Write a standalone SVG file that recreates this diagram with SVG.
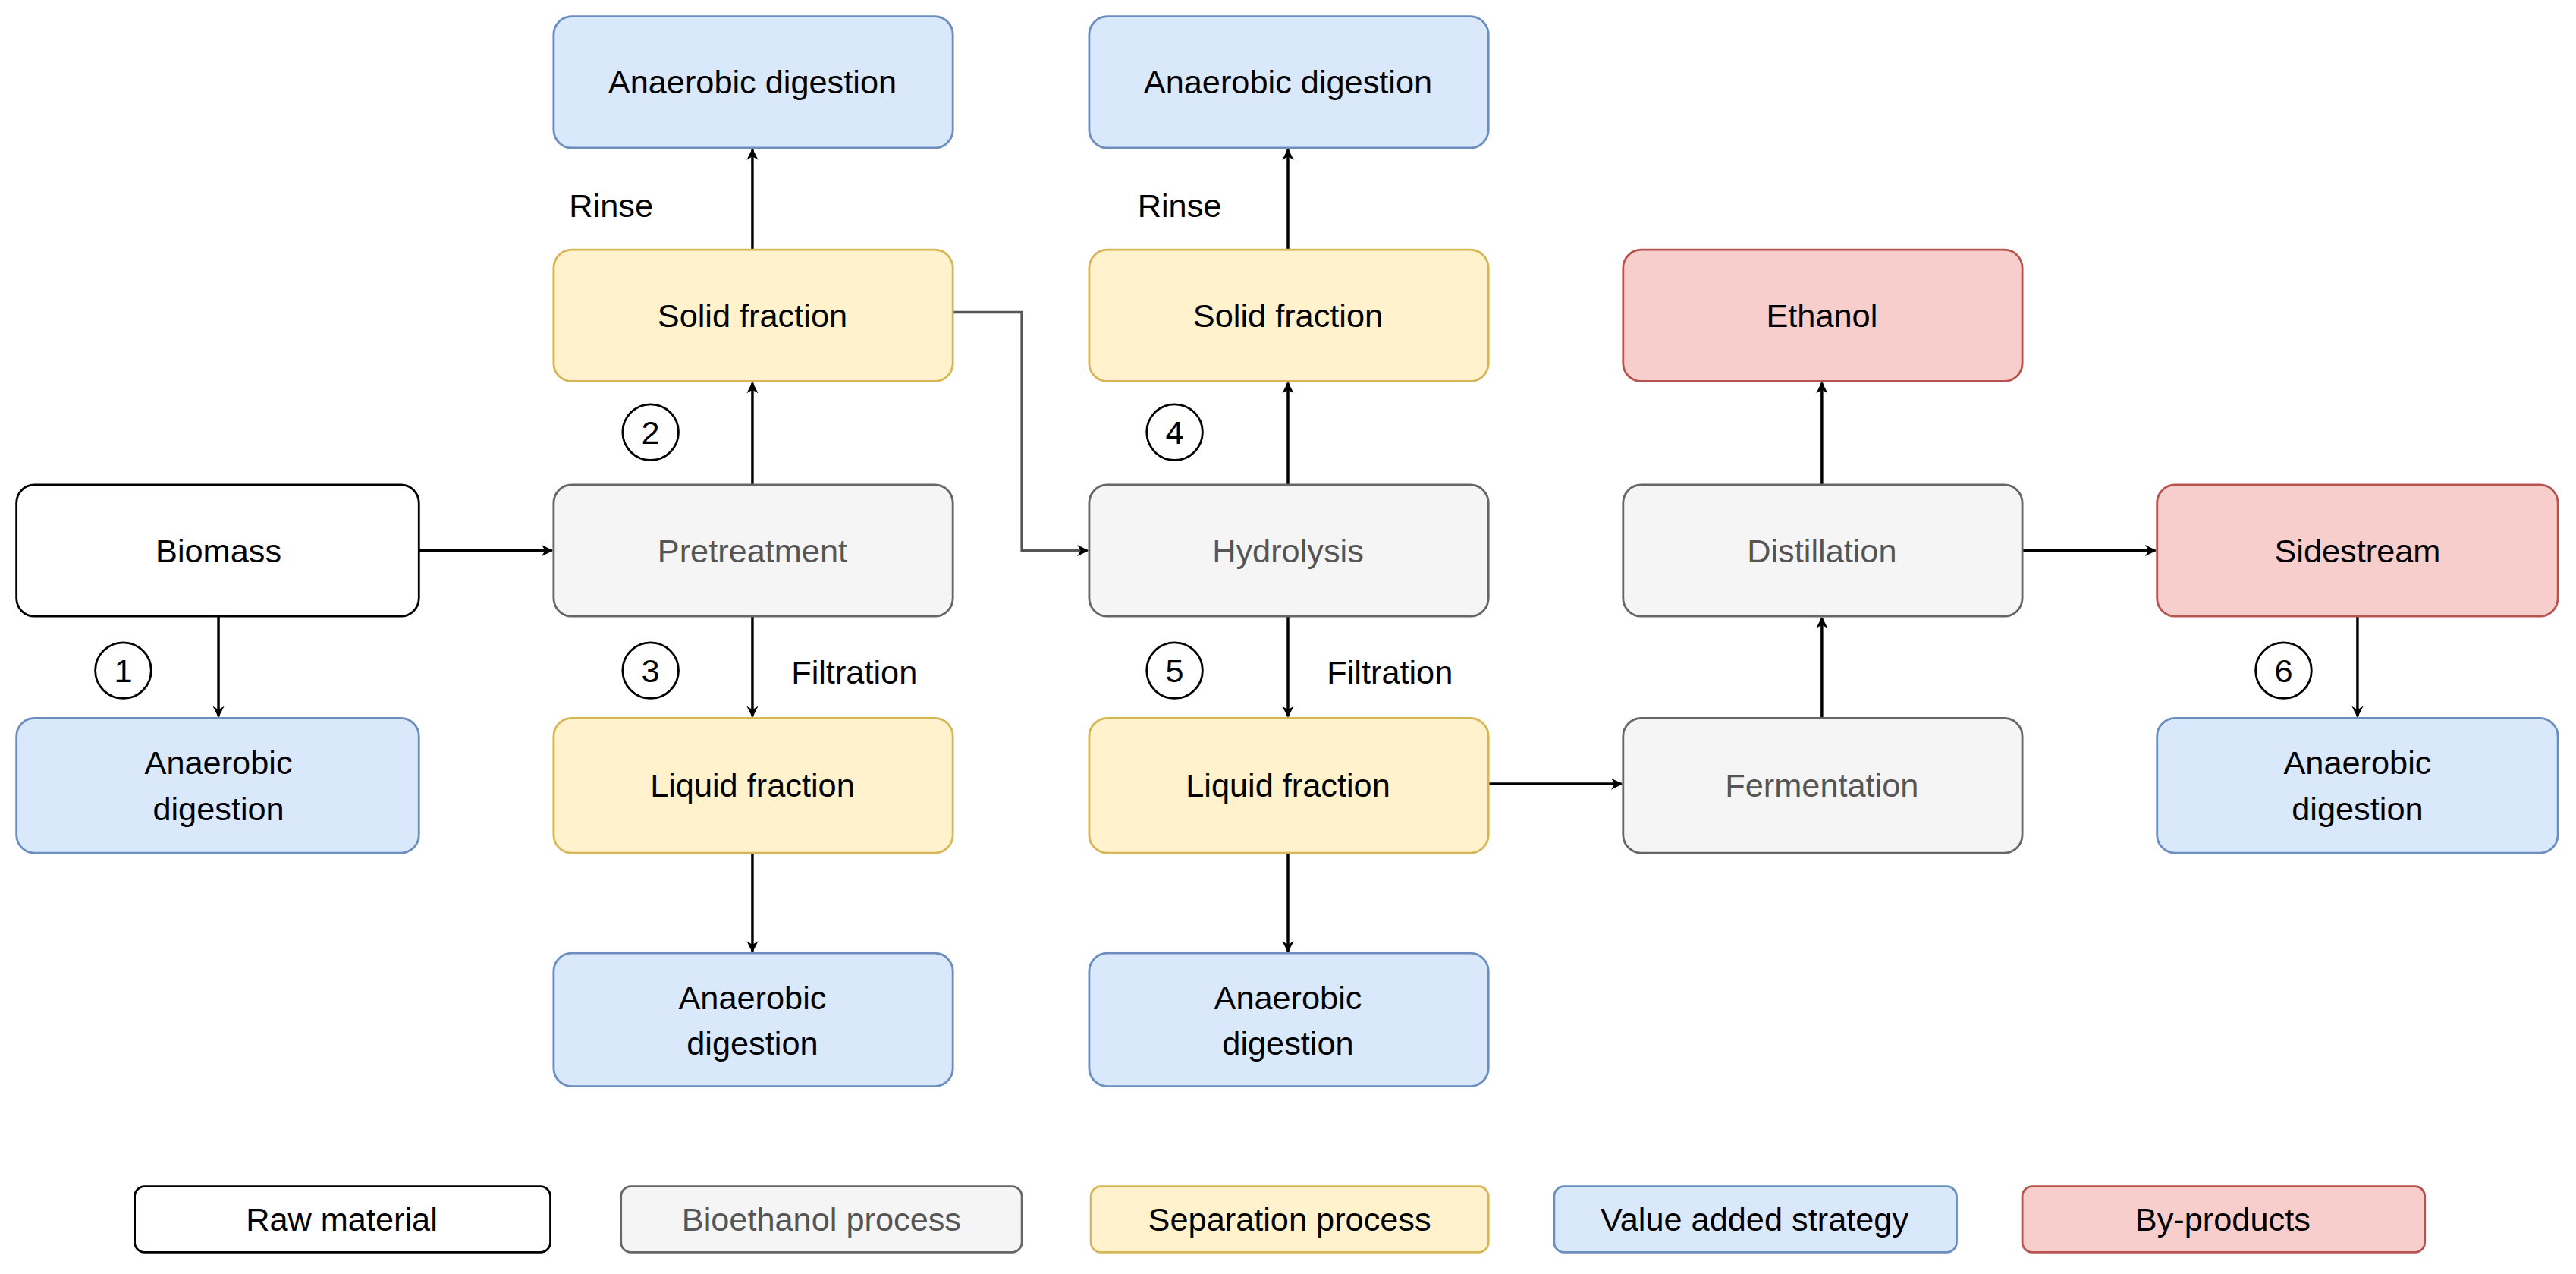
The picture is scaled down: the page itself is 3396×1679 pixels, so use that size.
<svg xmlns="http://www.w3.org/2000/svg" width="3396" height="1679" viewBox="0 0 3396 1679">
<defs>
<marker id="ar" viewBox="0 0 10 10" refX="9" refY="5" markerWidth="7" markerHeight="7" markerUnits="userSpaceOnUse" orient="auto"><path d="M0,0 L10,5 L0,10 L3,5 z" fill="#000"/></marker>
<style>
rect{stroke-width:1.3}
.raw{fill:#fff;stroke:#000}
.gr{fill:#f5f5f5;stroke:#666}
.ye{fill:#fff2cc;stroke:#d6b656}
.bl{fill:#dae8fc;stroke:#6c8ebf}
.rd{fill:#f8cecc;stroke:#b85450}
text{font-family:"Liberation Sans",Arial,sans-serif;font-size:20px;fill:#000;text-anchor:middle}
.gt{fill:#555}
.c line,.c path{stroke:#000;stroke-width:1.6;fill:none;marker-end:url(#ar)}
.c path.g{stroke:#555}
circle{fill:#fff;stroke:#000;stroke-width:1.3}
</style>
</defs>
<rect width="3396" height="1679" fill="#fff"/>
<g transform="scale(2.1658)">
<g class="c" id="connectors">
<line x1="255" y1="335" x2="336" y2="335"/>
<line x1="133" y1="375" x2="133" y2="436"/>
<line x1="458" y1="295" x2="458" y2="233"/>
<line x1="458" y1="152" x2="458" y2="91"/>
<line x1="458" y1="375" x2="458" y2="436"/>
<line x1="458" y1="519" x2="458" y2="579"/>
<path class="g" d="M580,190 L622,190 L622,335 L662,335"/>
<line x1="784" y1="295" x2="784" y2="233"/>
<line x1="784" y1="152" x2="784" y2="91"/>
<line x1="784" y1="375" x2="784" y2="436"/>
<line x1="784" y1="519" x2="784" y2="579"/>
<line x1="906" y1="477" x2="987" y2="477"/>
<line x1="1109" y1="437" x2="1109" y2="376"/>
<line x1="1109" y1="295" x2="1109" y2="233"/>
<line x1="1231" y1="335" x2="1312" y2="335"/>
<line x1="1435" y1="375" x2="1435" y2="436"/>
</g>
<g id="biomass"><rect class="raw" x="10" y="295" width="245" height="80" rx="11"/><text x="133" y="342">Biomass</text></g>
<g id="ad1"><rect class="bl" x="10" y="437" width="245" height="82" rx="11"/><text x="133" y="471">Anaerobic</text><text x="133" y="499">digestion</text></g>
<g id="pretreatment"><rect class="gr" x="337" y="295" width="243" height="80" rx="11"/><text class="gt" x="458" y="342">Pretreatment</text></g>
<g id="solid1"><rect class="ye" x="337" y="152" width="243" height="80" rx="11"/><text x="458" y="199">Solid fraction</text></g>
<g id="adtop1"><rect class="bl" x="337" y="10" width="243" height="80" rx="11"/><text x="458" y="57">Anaerobic digestion</text></g>
<g id="liquid1"><rect class="ye" x="337" y="437" width="243" height="82" rx="11"/><text x="458" y="485">Liquid fraction</text></g>
<g id="adbot1"><rect class="bl" x="337" y="580" width="243" height="81" rx="11"/><text x="458" y="614">Anaerobic</text><text x="458" y="642">digestion</text></g>
<g id="hydrolysis"><rect class="gr" x="663" y="295" width="243" height="80" rx="11"/><text class="gt" x="784" y="342">Hydrolysis</text></g>
<g id="solid2"><rect class="ye" x="663" y="152" width="243" height="80" rx="11"/><text x="784" y="199">Solid fraction</text></g>
<g id="adtop2"><rect class="bl" x="663" y="10" width="243" height="80" rx="11"/><text x="784" y="57">Anaerobic digestion</text></g>
<g id="liquid2"><rect class="ye" x="663" y="437" width="243" height="82" rx="11"/><text x="784" y="485">Liquid fraction</text></g>
<g id="adbot2"><rect class="bl" x="663" y="580" width="243" height="81" rx="11"/><text x="784" y="614">Anaerobic</text><text x="784" y="642">digestion</text></g>
<g id="ethanol"><rect class="rd" x="988" y="152" width="243" height="80" rx="11"/><text x="1109" y="199">Ethanol</text></g>
<g id="distillation"><rect class="gr" x="988" y="295" width="243" height="80" rx="11"/><text class="gt" x="1109" y="342">Distillation</text></g>
<g id="fermentation"><rect class="gr" x="988" y="437" width="243" height="82" rx="11"/><text class="gt" x="1109" y="485">Fermentation</text></g>
<g id="sidestream"><rect class="rd" x="1313" y="295" width="244" height="80" rx="11"/><text x="1435" y="342">Sidestream</text></g>
<g id="ad6"><rect class="bl" x="1313" y="437" width="244" height="82" rx="11"/><text x="1435" y="471">Anaerobic</text><text x="1435" y="499">digestion</text></g>
<g id="labels">
<text x="372" y="132">Rinse</text><text x="718" y="132">Rinse</text>
<text x="520" y="416">Filtration</text><text x="846" y="416">Filtration</text>
<circle cx="75" cy="408" r="17"/><text x="75" y="415">1</text>
<circle cx="396" cy="263" r="17"/><text x="396" y="270">2</text>
<circle cx="396" cy="408" r="17"/><text x="396" y="415">3</text>
<circle cx="715" cy="263" r="17"/><text x="715" y="270">4</text>
<circle cx="715" cy="408" r="17"/><text x="715" y="415">5</text>
<circle cx="1390" cy="408" r="17"/><text x="1390" y="415">6</text>
</g>
<g id="legend">
<rect class="raw" x="82" y="722" width="253" height="40" rx="6"/><text x="208" y="749">Raw material</text>
<rect class="gr" x="378" y="722" width="244" height="40" rx="6"/><text class="gt" x="500" y="749">Bioethanol process</text>
<rect class="ye" x="664" y="722" width="242" height="40" rx="6"/><text x="785" y="749">Separation process</text>
<rect class="bl" x="946" y="722" width="245" height="40" rx="6"/><text x="1068" y="749">Value added strategy</text>
<rect class="rd" x="1231" y="722" width="245" height="40" rx="6"/><text x="1353" y="749">By-products</text>
</g>
</g>
</svg>
